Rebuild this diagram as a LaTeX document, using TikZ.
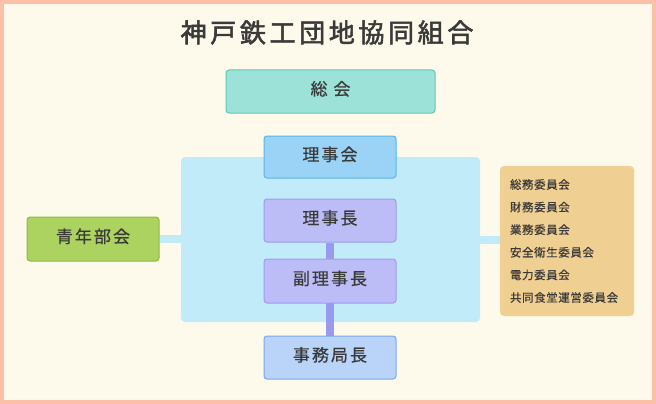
\documentclass[tikz,border=0pt]{standalone}
\usepackage{fontspec}
\setmainfont{Noto Sans CJK JP}
\newfontfamily\boxfont[LetterSpace=12,FakeBold=0.6]{Noto Sans CJK JP}
\newfontfamily\smallfont[LetterSpace=5,FakeBold=0.4]{Noto Sans CJK JP}
\newfontfamily\titlefont[LetterSpace=14,FakeBold=2.2]{Noto Sans CJK JP}
\usepackage{xcolor}

\definecolor{cream}{HTML}{FEFAEB}
\definecolor{salmon}{HTML}{FDBFA8}
\definecolor{inktext}{HTML}{3A3A3A}
\definecolor{tealfill}{HTML}{9DE2D8}
\definecolor{tealline}{HTML}{5EC9B8}
\definecolor{skyfill}{HTML}{9AD3F5}
\definecolor{skyline}{HTML}{5AB4EA}
\definecolor{panelblue}{HTML}{C1EBF9}
\definecolor{lilacfill}{HTML}{BCBCF7}
\definecolor{lilacline}{HTML}{9C9CF0}
\definecolor{linkviolet}{HTML}{9999EE}
\definecolor{steelfill}{HTML}{B9D3F9}
\definecolor{steelline}{HTML}{78A8EE}
\definecolor{greenfill}{HTML}{ACD35F}
\definecolor{greenline}{HTML}{8DBB3E}
\definecolor{sandfill}{HTML}{F0CF92}

\pgfdeclarelayer{base}
\pgfdeclarelayer{links}
\pgfsetlayers{base,links,main}

\begin{document}
\begin{tikzpicture}[x=1pt,y=-1pt,
    orgbox/.style={draw,line width=1pt,rounded corners=3pt,inner sep=0pt,
      minimum width=132pt,minimum height=43pt,text=inktext,
      font=\boxfont\fontsize{17}{20}\selectfont,text height=0.88em,text depth=0.12em},
    vlink/.style={linkviolet,line width=8pt},
    hlink/.style={panelblue,line width=8pt}]
	\useasboundingbox (0,0) rectangle (656,404);
	\begin{pgfonlayer}{base}
		\draw[salmon,line width=4pt,fill=cream] (2,2) rectangle (654,402);
		\node[fill=panelblue,rounded corners=4pt,inner sep=0pt,minimum width=299pt,minimum height=165pt] (panel) at (330.5,239.5) {};
	\end{pgfonlayer}
	
	\node[text=inktext,font=\titlefont\fontsize{26}{30}\selectfont,text height=0.88em,text depth=0.12em,inner sep=0pt] (title) at (327,38.5) {神戸鉄工団地協同組合};
	
	\node[orgbox,fill=tealfill,draw=tealline,minimum width=209pt] (soukai) at (330.5,91.5) {総 会};
	\node[orgbox,fill=skyfill,draw=skyline,minimum height=42pt] (rijikai) at (330,157) {理事会};
	\node[orgbox,fill=lilacfill,draw=lilacline] (rijicho) at (330,220.5) {理事長};
	\node[orgbox,fill=lilacfill,draw=lilacline,minimum height=44pt] (fukurijicho) at (330,281) {副理事長};
	\node[orgbox,fill=steelfill,draw=steelline] (jimukyokucho) at (330,357.5) {事務局長};
	\node[orgbox,fill=greenfill,draw=greenline,minimum height=44pt] (seinenbu) at (93,239) {青年部会};
	\node[fill=sandfill,rounded corners=4pt,inner sep=0pt,minimum width=134pt,minimum height=150pt,
	  text width=114pt,align=left,text=inktext,font=\smallfont\fontsize{11.5}{22.6}\selectfont] (iinkai) at (567,241)
	  {総務委員会\\財務委員会\\業務委員会\\安全衛生委員会\\電力委員会\\共同食堂運営委員会};
	
	% links sit between the panel and the boxes
	\begin{pgfonlayer}{links}
		\draw[hlink] (seinenbu.east) -- (seinenbu.east -| panel.west);
		\draw[hlink] (panel.east) -- (panel.east -| iinkai.west);
		\draw[vlink] (rijicho.south) -- (jimukyokucho.north);
	\end{pgfonlayer}
\end{tikzpicture}
\end{document}
